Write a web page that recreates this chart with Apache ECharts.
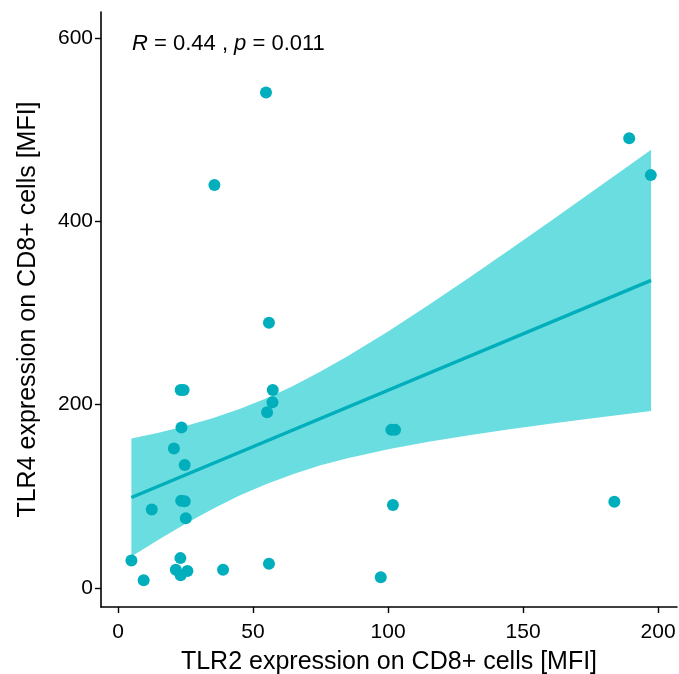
<!DOCTYPE html>
<html>
<head>
<meta charset="utf-8">
<script src="https://cdn.jsdelivr.net/npm/echarts@6/dist/echarts.min.js"></script>
<style>
html,body{margin:0;padding:0;background:#fff;}
#chart{width:679px;height:674px;}
</style>
</head>
<body>
<div id="chart"></div>
<script>
// Observed points: TLR2 (x) vs TLR4 (y) expression on CD8+ cells [MFI]
const tlr2 = [54.8, 35.7, 189.3, 197.3, 55.9, 23.2, 24.3, 57.3, 57.2, 55.2,
              23.5, 20.7, 24.7, 23.4, 24.7, 12.5, 25.1, 4.96, 23.1, 21.4,
              25.7, 23.2, 9.5, 38.9, 55.9, 101.2, 102.6, 101.8, 183.8, 97.3];
const tlr4 = [541, 440, 491, 450.8, 289.5, 216, 216, 216, 202.6, 191.7,
              175.2, 152.2, 134, 95, 94.5, 85.4, 75.9, 29.9, 32.4, 19.7,
              18.2, 13.8, 8.3, 19.7, 26.3, 172.5, 172.5, 90.5, 94, 11.6];

// Regression line end points
const fitX = [4.96, 197.4];
const fitY = [98.6, 335.8];

// Confidence band
const bandX     = [4.96, 15, 25, 35, 45, 55, 65, 75, 85, 100, 115, 130, 145, 160, 175, 190, 197.4];
const bandLower = [34.1, 52.6, 69.9, 86.0, 100.7, 113.5, 124.4, 133.8, 141.6, 151.4, 159.6, 166.7, 173.2, 179.2, 184.9, 190.4, 193.0];
const bandUpper = [163.1, 169.4, 176.7, 185.2, 195.3, 207.1, 220.8, 236.2, 253.0, 280.0, 308.8, 338.7, 369.2, 400.2, 431.5, 463.0, 478.6];

const xTicks = [0, 50, 100, 150, 200];
const yTicks = [0, 200, 400, 600];

const xTitle = 'TLR2 expression on CD8+ cells [MFI]';
const yTitle = 'TLR4 expression on CD8+ cells [MFI]';

const teal = '#00AFBB';
const bandFill = '#69DDE0';
const font = 'Liberation Sans, Arial, Helvetica, sans-serif';

const chart = echarts.init(document.getElementById('chart'), null, {renderer: 'canvas'});

const axisCommon = {
  type: 'value',
  splitLine: {show: false},
  axisLine: {show: true, onZero: false, lineStyle: {color: '#000', width: 1.6}},
  axisTick: {show: true, length: 6, lineStyle: {color: '#000', width: 1.4}},
  nameLocation: 'middle',
  nameTextStyle: {fontFamily: font, fontSize: 25, color: '#000'}
};

const bandData = bandX.map((x, i) => [x, bandLower[i], bandUpper[i]]);

chart.setOption({
  backgroundColor: '#fff',
  animation: false,
  title: {
    left: 127, top: 28,
    text: '{i|R} = 0.44 , {i|p} = 0.011',
    textStyle: {
      fontFamily: font, fontSize: 22, fontWeight: 'normal', color: '#000',
      rich: {i: {fontFamily: font, fontSize: 22, fontStyle: 'italic', color: '#000'}}
    }
  },
  grid: {left: 101, right: 2, top: 12, bottom: 67, containLabel: false, outerBoundsMode: 'none'},
  xAxis: Object.assign({}, axisCommon, {
    min: -6.3, max: 207,
    name: xTitle, nameGap: 43,
    axisTick: Object.assign({}, axisCommon.axisTick, {customValues: xTicks}),
    axisLabel: {customValues: xTicks, margin: 15, fontFamily: font, fontSize: 21, color: '#000'}
  }),
  yAxis: Object.assign({}, axisCommon, {
    min: -21, max: 629,
    name: yTitle, nameGap: 60, nameRotate: 90,
    axisTick: Object.assign({}, axisCommon.axisTick, {customValues: yTicks}),
    axisLabel: {customValues: yTicks, margin: 8, fontFamily: font, fontSize: 21, color: '#000'}
  }),
  series: [
    {
      type: 'custom', z: 1, silent: true,
      data: bandData,
      encode: {x: 0, y: [1, 2]},
      renderItem: function (params, api) {
        if (params.dataIndex !== 0) return null;
        const pts = [];
        for (let i = 0; i < bandData.length; i++) pts.push(api.coord([bandData[i][0], bandData[i][2]]));
        for (let i = bandData.length - 1; i >= 0; i--) pts.push(api.coord([bandData[i][0], bandData[i][1]]));
        return {
          type: 'polygon',
          shape: {points: pts},
          style: {fill: bandFill, stroke: null}
        };
      }
    },
    {
      type: 'line', z: 2, symbol: 'none', silent: true,
      data: fitX.map((x, i) => [x, fitY[i]]),
      lineStyle: {color: teal, width: 3.4}
    },
    {
      type: 'scatter', z: 3, symbolSize: 12,
      data: tlr2.map((x, i) => [x, tlr4[i]]),
      itemStyle: {color: teal, opacity: 1}
    }
  ]
});
</script>
</body>
</html>
